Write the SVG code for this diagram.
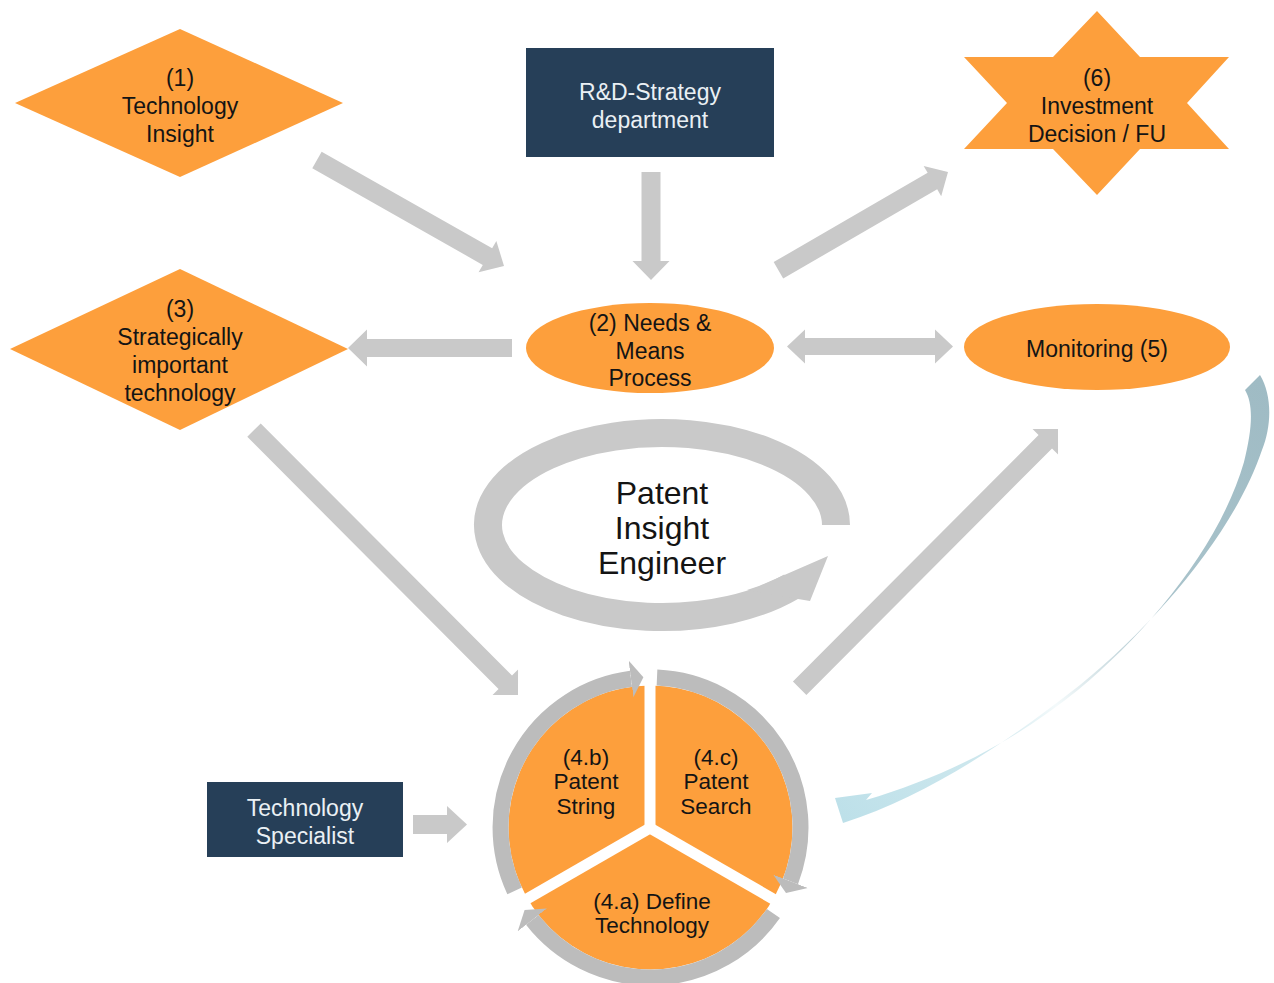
<svg xmlns="http://www.w3.org/2000/svg" width="1274" height="983" viewBox="0 0 1274 983">
  <defs>
    <style>
      .orange { fill: #fd9f3c; }
      .navy { fill: #263f58; }
      .conn { fill: #c9c9c9; }
      .lbl { font-family: "Liberation Sans", Arial, sans-serif; font-size: 23px; fill: #141414; text-anchor: middle; }
      .lbl-light { fill: #eaf0f4; }
      .big { font-size: 32px; }
      .pie { font-size: 22.5px; }
      .ring { fill: none; stroke: #bcbcbc; stroke-width: 16; }
    </style>
    <marker id="ringHead" markerUnits="userSpaceOnUse" markerWidth="16" markerHeight="38" viewBox="0 -19 16 38" refX="0" refY="0" orient="auto">
      <path d="M0,-18.5 L12.5,0 L0,18.5 Z" fill="#bcbcbc"/>
    </marker>
    <linearGradient id="feedbackGrad" gradientUnits="userSpaceOnUse" x1="1260" y1="380" x2="840" y2="815">
      <stop offset="0" stop-color="#9fbbc4"/>
      <stop offset="0.4" stop-color="#aac4cc"/>
      <stop offset="0.55" stop-color="#dde9ec"/>
      <stop offset="0.62" stop-color="#f4fafb"/>
      <stop offset="0.75" stop-color="#cfe8ee"/>
      <stop offset="1" stop-color="#bde0e9"/>
    </linearGradient>
  </defs>

  <rect width="1274" height="983" fill="#ffffff"/>

  <!-- connectors -->
  <g id="connectors">
    <!-- (1) -> (2) -->
    <polygon class="conn" transform="translate(504,266) rotate(29.55)" points="-215,-9.5 -19,-9.5 -19,-18 0,0 -19,18 -19,9.5 -215,9.5"/>
    <!-- R&D -> (2) -->
    <polygon class="conn" transform="translate(651,280) rotate(90)" points="-108,-9.5 -19,-9.5 -19,-18.5 0,0 -19,18.5 -19,9.5 -108,9.5"/>
    <!-- (2) -> (6) -->
    <polygon class="conn" transform="translate(948,172) rotate(-30.1)" points="-196,-9.5 -18,-9.5 -18,-17.5 0,0 -18,17.5 -18,9.5 -196,9.5"/>
    <!-- (2) -> (3) -->
    <polygon class="conn" transform="translate(348,348) rotate(180)" points="-164,-9 -19,-9 -19,-18.5 0,0 -19,18.5 -19,9 -164,9"/>
    <!-- (2) <-> (5) -->
    <polygon class="conn" points="787,346.5 805,329.5 805,338 935,338 935,329.5 953,346.5 935,363.5 935,355 805,355 805,363.5"/>
    <!-- (3) -> (4) -->
    <polygon class="conn" transform="translate(518,695) rotate(45.1)" points="-374,-9.5 -18,-9.5 -18,-18 0,0 -18,18 -18,9.5 -374,9.5"/>
    <!-- (4) -> (5) -->
    <polygon class="conn" transform="translate(1058,429) rotate(-45.1)" points="-366,-9.5 -18,-9.5 -18,-18 0,0 -18,18 -18,9.5 -366,9.5"/>
    <!-- Technology Specialist -> (4) -->
    <polygon class="conn" transform="translate(467,824.5)" points="-54,-9.5 -20,-9.5 -20,-18.5 0,0 -20,18.5 -20,9.5 -54,9.5"/>
    <!-- feedback from Monitoring (5) back into (4) -->
    <path fill="url(#feedbackGrad)" d="M 1245 390 L 1260 375 C 1272 395, 1272 425, 1262 450 C 1235 530, 1160 620, 1080 685 C 1010 740, 930 795, 843 823 L 835 798 L 872 793 L 866 800 C 940 778, 1010 745, 1078 690 C 1150 630, 1220 545, 1244 462 C 1252 430, 1254 405, 1245 390 Z"/>
  </g>

  <!-- (1) Technology Insight -->
  <g id="node-technology-insight">
    <polygon class="orange" points="180,29 343,103 180,177 15,103"/>
    <text class="lbl" x="180" y="86">(1)</text>
    <text class="lbl" x="180" y="114">Technology</text>
    <text class="lbl" x="180" y="142">Insight</text>
  </g>

  <!-- R&D-Strategy department -->
  <g id="node-rd-strategy">
    <rect class="navy" x="526" y="48" width="248" height="109"/>
    <text class="lbl lbl-light" x="650" y="100">R&amp;D-Strategy</text>
    <text class="lbl lbl-light" x="650" y="128">department</text>
  </g>

  <!-- (6) Investment Decision / FU -->
  <g id="node-investment-decision">
    <polygon class="orange" points="1097,11 1140,57 1229,57 1187,103 1229,149 1140,149 1097,195 1053,149 964,149 1007,103 964,57 1053,57"/>
    <text class="lbl" x="1097" y="86">(6)</text>
    <text class="lbl" x="1097" y="114">Investment</text>
    <text class="lbl" x="1097" y="142">Decision / FU</text>
  </g>

  <!-- (3) Strategically important technology -->
  <g id="node-strategic-technology">
    <polygon class="orange" points="180,269 348,349 180,430 10,349"/>
    <text class="lbl" x="180" y="317">(3)</text>
    <text class="lbl" x="180" y="345">Strategically</text>
    <text class="lbl" x="180" y="373">important</text>
    <text class="lbl" x="180" y="401">technology</text>
  </g>

  <!-- (2) Needs & Means Process -->
  <g id="node-needs-means">
    <ellipse class="orange" cx="650" cy="348" rx="124" ry="45"/>
    <text class="lbl" x="650" y="331">(2) Needs &amp;</text>
    <text class="lbl" x="650" y="359">Means</text>
    <text class="lbl" x="650" y="386">Process</text>
  </g>

  <!-- Monitoring (5) -->
  <g id="node-monitoring">
    <ellipse class="orange" cx="1097" cy="347" rx="133" ry="43"/>
    <text class="lbl" x="1097" y="357">Monitoring (5)</text>
  </g>

  <!-- Patent Insight Engineer cycle -->
  <g id="node-patent-insight-engineer">
    <path d="M 836 525 A 174 92 0 1 0 791.3 586.6" fill="none" stroke="#c9c9c9" stroke-width="28"/>
    <polygon fill="#c9c9c9" points="747,590 759,586 828,556 810,601 798,599"/>
    <text class="lbl big" x="662" y="504">Patent</text>
    <text class="lbl big" x="662" y="539">Insight</text>
    <text class="lbl big" x="662" y="574">Engineer</text>
  </g>

  <!-- Technology Specialist -->
  <g id="node-technology-specialist">
    <rect class="navy" x="207" y="782" width="196" height="75"/>
    <text class="lbl lbl-light" x="305" y="816">Technology</text>
    <text class="lbl lbl-light" x="305" y="844">Specialist</text>
  </g>

  <!-- (4) search cycle: define, string, search -->
  <g id="node-search-cycle">
    <circle class="orange" cx="650.5" cy="827.5" r="142"/>
    <g stroke="#ffffff" stroke-width="11">
      <line x1="650" y1="828" x2="650" y2="660"/>
      <line x1="650" y1="828" x2="506" y2="911"/>
      <line x1="650" y1="828" x2="794" y2="911"/>
    </g>
    <path class="ring" d="M 514.6 890.9 A 150 150 0 0 1 631.0 678.8" marker-end="url(#ringHead)"/>
    <path class="ring" d="M 657.0 677.6 A 150 150 0 0 1 790.5 881.3" marker-end="url(#ringHead)"/>
    <path class="ring" d="M 773.4 913.5 A 150 150 0 0 1 532.3 919.9" marker-end="url(#ringHead)"/>
    <text class="lbl pie" x="586" y="765">(4.b)</text>
    <text class="lbl pie" x="586" y="789">Patent</text>
    <text class="lbl pie" x="586" y="814">String</text>
    <text class="lbl pie" x="716" y="765">(4.c)</text>
    <text class="lbl pie" x="716" y="789">Patent</text>
    <text class="lbl pie" x="716" y="814">Search</text>
    <text class="lbl pie" x="652" y="909">(4.a) Define</text>
    <text class="lbl pie" x="652" y="933">Technology</text>
  </g>
</svg>
